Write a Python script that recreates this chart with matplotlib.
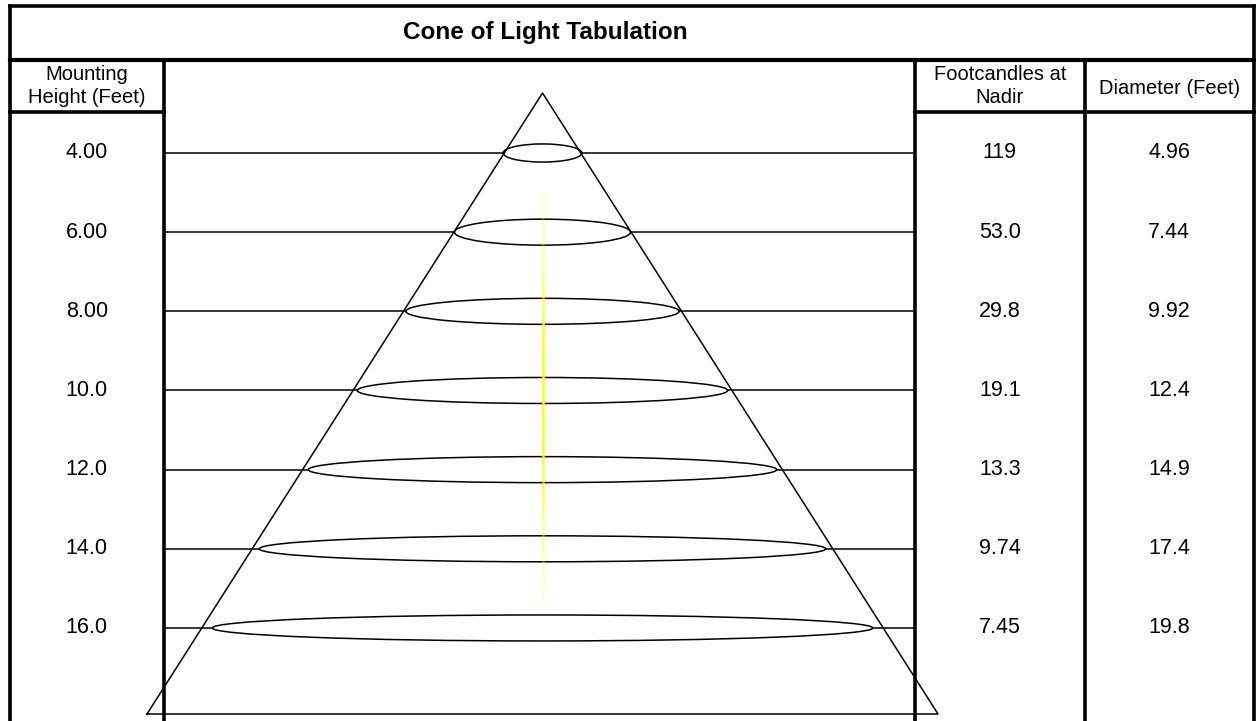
import matplotlib
matplotlib.use("Agg")
import matplotlib.pyplot as plt
from matplotlib.patches import Ellipse
import numpy as np

plt.rcParams['font.family'] = ['Liberation Sans', 'DejaVu Sans']

# ---- data ----
title = "Cone of Light Tabulation"
col_headers = ["Mounting\nHeight (Feet)", "Footcandles at\nNadir", "Diameter (Feet)"]
mounting_heights = [4.0, 6.0, 8.0, 10.0, 12.0, 14.0, 16.0]
height_labels = ["4.00", "6.00", "8.00", "10.0", "12.0", "14.0", "16.0"]
footcandles = [119, 53.0, 29.8, 19.1, 13.3, 9.74, 7.45]
footcandle_labels = ["119", "53.0", "29.8", "19.1", "13.3", "9.74", "7.45"]
diameters = [4.96, 7.44, 9.92, 12.4, 14.9, 17.4, 19.8]
diameter_labels = ["4.96", "7.44", "9.92", "12.4", "14.9", "17.4", "19.8"]

# ---- layout (pixel space) ----
W, H = 1256, 721
fig = plt.figure(figsize=(W / 100, H / 100), dpi=100)
ax = fig.add_axes([0, 0, 1, 1])
ax.set_xlim(0, W)
ax.set_ylim(H, 0)
ax.axis('off')

x_left, x_c1, x_c2, x_c3, x_right = 10, 163.5, 915, 1084.5, 1254
y_top, y_title, y_head = 6, 59.5, 112
cx = 542.5

def row_y(h):
    # linear scale: mounting height -> vertical position
    return 153 + (h - 4.0) * 39.58

def ell_w(d):
    # linear scale: diameter -> drawn ellipse width
    return 39.2 * (d - 2.95)

thick = 2.6
thin = 1.1

# Outer frame and grid
ax.plot([x_left, x_right], [y_top, y_top], color='black', lw=thick, solid_capstyle='projecting')
ax.plot([x_left, x_left], [y_top, H], color='black', lw=thick, solid_capstyle='projecting')
ax.plot([x_right, x_right], [y_top, H], color='black', lw=thick, solid_capstyle='projecting')
ax.plot([x_left, x_right], [y_title, y_title], color='black', lw=3.0, solid_capstyle='projecting')
for xv in (x_c1, x_c2, x_c3):
    ax.plot([xv, xv], [y_title, H], color='black', lw=thick)
ax.plot([x_left, x_c1], [y_head, y_head], color='black', lw=thick)
ax.plot([x_c2, x_right], [y_head, y_head], color='black', lw=thick)

# Title and headers
ax.text(545, 33, title, ha='center', va='center',
        fontsize=17.5, fontweight='bold')
ax.text((x_left + x_c1) / 2, 86, col_headers[0], ha='center', va='center',
        fontsize=14.5, linespacing=1.3)
ax.text((x_c2 + x_c3) / 2, 86, col_headers[1], ha='center', va='center',
        fontsize=14.5, linespacing=1.3)
ax.text((x_c3 + x_right) / 2, 88, col_headers[2], ha='center', va='center',
        fontsize=14.5)

# Yellow nadir beam with fading ends
y0, y1 = 190, 625
ys = np.linspace(y0, y1, 120)
for a, b in zip(ys[:-1], ys[1:]):
    m = (a + b) / 2
    if m < 340:
        al = 0.15 + 0.85 * ((m - y0) / (340 - y0)) ** 1.5
    elif m < 450:
        al = 1.0
    else:
        al = max(0.03, 1.0 - ((m - 450) / (y1 - 450)) ** 0.8)
    ax.plot([cx, cx], [a, b], color='#ffff00', lw=1.8, alpha=al, solid_capstyle='butt')

# Cone
apex_y, base_y = 93, 714
base_l, base_r = 147, 938
ax.plot([base_l, cx, base_r, base_l], [base_y, apex_y, base_y, base_y],
        color='black', lw=thin)

# Rows: leader lines, ellipses, values
for h, hl, fl, d, dl in zip(mounting_heights, height_labels, footcandle_labels,
                            diameters, diameter_labels):
    y = row_y(h)
    w = ell_w(d)
    eh = min(26.0, 0.23 * w)
    ax.plot([x_c1, cx - w / 2], [y, y], color='black', lw=thin)
    ax.plot([cx + w / 2, x_c2], [y, y], color='black', lw=thin)
    ax.add_patch(Ellipse((cx, y), w, eh, fill=False, edgecolor='black', lw=thin))
    ax.text((x_left + x_c1) / 2, y, hl, ha='center', va='center', fontsize=15.5)
    ax.text((x_c2 + x_c3) / 2, y, fl, ha='center', va='center', fontsize=15.5)
    ax.text((x_c3 + x_right) / 2, y, dl, ha='center', va='center', fontsize=15.5)

fig.savefig("out.png", dpi=100)
